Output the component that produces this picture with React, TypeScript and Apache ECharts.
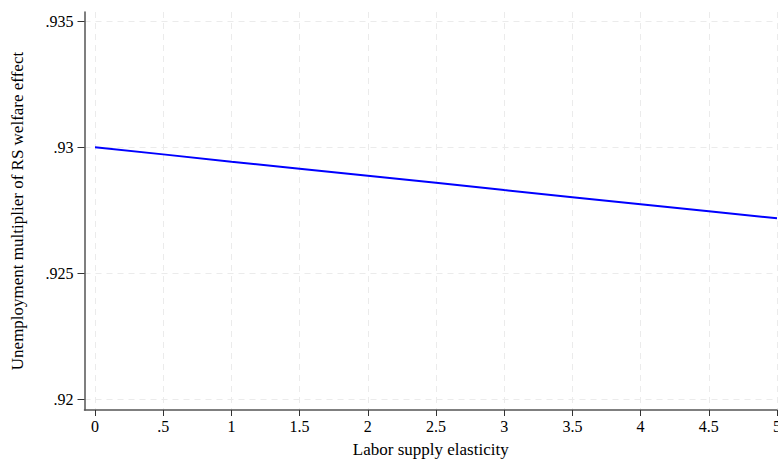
import React, { useEffect, useRef } from "react";
import * as echarts from "echarts";

const elasticity = [0, 0.5, 1, 1.5, 2, 2.5, 3, 3.5, 4, 4.5, 5];
const multiplier = [0.93, 0.92972, 0.92943, 0.92915, 0.92887, 0.92859, 0.9283, 0.92802, 0.92774, 0.92746, 0.92718];
const xTicks = [0, 0.5, 1, 1.5, 2, 2.5, 3, 3.5, 4, 4.5, 5];
const yTicks = [0.92, 0.925, 0.93, 0.935];

const fmt = (v: number) => {
  const s = String(Math.round(v * 10000) / 10000);
  return s.startsWith("0.") ? s.slice(1) : s;
};

export default function App() {
  const ref = useRef<HTMLDivElement>(null);
  useEffect(() => {
    document.body.style.margin = "0";
    const chart = echarts.init(ref.current!, null, { renderer: "svg" });
    const font = "Liberation Serif";
    const gridLine = { show: true, lineStyle: { color: "#ebebeb", type: [6, 5] as any, width: 1 } };
    chart.setOption({
      animation: false,
      backgroundColor: "#ffffff",
      grid: { left: 84.5, right: 1, top: 12, bottom: 52, containLabel: false, outerBoundsMode: "none" },
      xAxis: {
        type: "value",
        min: -0.077,
        max: 5,
        name: "Labor supply elasticity",
        nameLocation: "middle",
        nameGap: 31,
        nameTextStyle: { fontFamily: font, fontSize: 17, color: "#000" },
        axisLine: { show: true, onZero: false, lineStyle: { color: "#555", width: 1.5 } },
        axisTick: { show: true, length: 6, customValues: xTicks, lineStyle: { color: "#333" } },
        axisLabel: { customValues: xTicks, formatter: fmt, fontFamily: font, fontSize: 16, color: "#000", margin: 8 },
        splitLine: gridLine,
      },
      yAxis: {
        type: "value",
        min: 0.919563,
        max: 0.935377,
        name: "Unemployment multiplier of RS welfare effect",
        nameLocation: "middle",
        nameGap: 59,
        nameTextStyle: { fontFamily: font, fontSize: 17, color: "#000" },
        axisLine: { show: true, onZero: false, lineStyle: { color: "#555", width: 1.5 } },
        axisTick: { show: true, length: 7, customValues: yTicks, lineStyle: { color: "#333" } },
        axisLabel: { customValues: yTicks, formatter: fmt, fontFamily: font, fontSize: 16, color: "#000", margin: 11 },
        splitLine: gridLine,
      },
      series: [
        {
          type: "line",
          data: elasticity.map((x, i) => [x, multiplier[i]]),
          showSymbol: false,
          symbol: "none",
          lineStyle: { color: "#0000ff", width: 2 },
          clip: false,
        },
      ],
    });
    return () => chart.dispose();
  }, []);
  return <div ref={ref} style={{ width: 778, height: 462 }} />;
}
